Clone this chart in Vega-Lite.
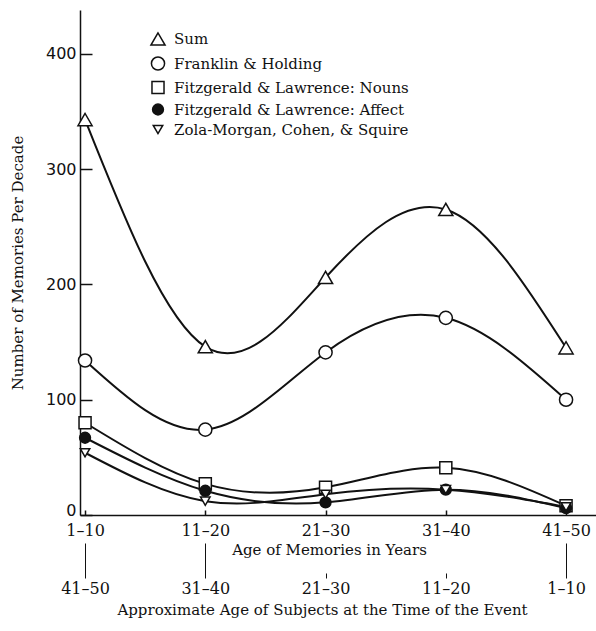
{
  "$schema": "https://vega.github.io/schema/vega-lite/v6.json",
  "width": 516,
  "height": 505,
  "autosize": {"type": "none"},
  "padding": {"left": 80, "top": 10, "right": 0, "bottom": 116},
  "background": "white",
  "config": {
    "view": {"stroke": null},
    "font": "DejaVu Serif",
    "axis": {"grid": false, "domainColor": "#111", "tickColor": "#111", "labelColor": "#111", "titleColor": "#111", "domainWidth": 1.5, "tickWidth": 1.5, "titleFontWeight": "normal", "labelFont": "DejaVu Serif", "titleFont": "DejaVu Serif", "labelFontSize": 16, "titleFontSize": 15}
  },
  "data": {
    "values": [
      {"series": "Sum", "x": 1, "value": 343},
      {"series": "Sum", "x": 2, "value": 146},
      {"series": "Sum", "x": 3, "value": 206},
      {"series": "Sum", "x": 4, "value": 265},
      {"series": "Sum", "x": 5, "value": 145},
      {"series": "Franklin & Holding", "x": 1, "value": 134},
      {"series": "Franklin & Holding", "x": 2, "value": 74},
      {"series": "Franklin & Holding", "x": 3, "value": 141},
      {"series": "Franklin & Holding", "x": 4, "value": 171},
      {"series": "Franklin & Holding", "x": 5, "value": 100},
      {"series": "Fitzgerald & Lawrence: Nouns", "x": 1, "value": 80},
      {"series": "Fitzgerald & Lawrence: Nouns", "x": 2, "value": 27},
      {"series": "Fitzgerald & Lawrence: Nouns", "x": 3, "value": 24},
      {"series": "Fitzgerald & Lawrence: Nouns", "x": 4, "value": 41},
      {"series": "Fitzgerald & Lawrence: Nouns", "x": 5, "value": 8},
      {"series": "Fitzgerald & Lawrence: Affect", "x": 1, "value": 67},
      {"series": "Fitzgerald & Lawrence: Affect", "x": 2, "value": 21},
      {"series": "Fitzgerald & Lawrence: Affect", "x": 3, "value": 11},
      {"series": "Fitzgerald & Lawrence: Affect", "x": 4, "value": 22},
      {"series": "Fitzgerald & Lawrence: Affect", "x": 5, "value": 6},
      {"series": "Zola-Morgan, Cohen, & Squire", "x": 1, "value": 54},
      {"series": "Zola-Morgan, Cohen, & Squire", "x": 2, "value": 12},
      {"series": "Zola-Morgan, Cohen, & Squire", "x": 3, "value": 18},
      {"series": "Zola-Morgan, Cohen, & Squire", "x": 4, "value": 22},
      {"series": "Zola-Morgan, Cohen, & Squire", "x": 5, "value": 7}
    ]
  },
  "encoding": {
    "y": {
      "field": "value", "type": "quantitative",
      "scale": {"domain": [0, 438], "nice": false},
      "axis": {
        "values": [0, 100, 200, 300, 400],
        "tickSize": -12,
        "labelPadding": 16,
        "labelOffset": {"condition": {"test": "datum.value == 0", "value": -5}, "value": 0},
        "labelFont": "DejaVu Sans",
        "title": "Number of Memories Per Decade",
        "titlePadding": 20
      }
    }
  },
  "layer": [
    {
      "mark": {"type": "line", "interpolate": "natural", "color": "#111", "strokeWidth": 2},
      "encoding": {
        "x": {"field": "x", "type": "quantitative", "scale": {"domain": [0.958, 5.249], "nice": false, "zero": false}, "axis": null},
        "detail": {"field": "series"}
      }
    },
    {
      "mark": {"type": "point", "filled": false, "stroke": "#111", "strokeWidth": 1.5, "opacity": 1},
      "encoding": {
        "x": {
          "field": "x", "type": "quantitative",
          "axis": {
            "values": [1, 2, 3, 4, 5],
            "labelExpr": "['', '1–10', '11–20', '21–30', '31–40', '41–50'][datum.value]",
            "tickSize": -5,
            "labelPadding": 12,
            "title": "Age of Memories in Years",
            "titlePadding": 4,
            "titleX": 249
          }
        },
        "shape": {
          "field": "series", "type": "nominal",
          "scale": {
            "domain": ["Sum", "Franklin & Holding", "Fitzgerald & Lawrence: Nouns", "Fitzgerald & Lawrence: Affect", "Zola-Morgan, Cohen, & Squire"],
            "range": ["triangle-up", "circle", "square", "circle", "triangle-down"]
          },
          "legend": {
            "orient": "none", "legendX": 70, "legendY": 21, "title": null,
            "labelFont": "DejaVu Serif", "labelFontSize": 15, "labelColor": "#111", "labelLimit": 0,
            "symbolStrokeColor": "#111", "symbolStrokeWidth": 1.5, "rowPadding": 4,
            "labelOffset": 8
          }
        },
        "fill": {
          "field": "series", "type": "nominal",
          "scale": {
            "domain": ["Sum", "Franklin & Holding", "Fitzgerald & Lawrence: Nouns", "Fitzgerald & Lawrence: Affect", "Zola-Morgan, Cohen, & Squire"],
            "range": ["white", "white", "white", "#111", "white"]
          }
        },
        "size": {
          "field": "series", "type": "nominal",
          "scale": {
            "domain": ["Sum", "Franklin & Holding", "Fitzgerald & Lawrence: Nouns", "Fitzgerald & Lawrence: Affect", "Zola-Morgan, Cohen, & Squire"],
            "range": [200, 90, 100, 50, 200]
          }
        }
      }
    },
    {
      "mark": {"type": "point", "opacity": 0},
      "encoding": {
        "x": {
          "field": "x", "type": "quantitative",
          "axis": {
            "orient": "bottom",
            "offset": 63,
            "domain": false,
            "values": [1, 2, 3, 4, 5],
            "labelExpr": "['', '41–50', '31–40', '21–30', '11–20', '1–10'][datum.value]",
            "tickSize": {"condition": {"test": "datum.value <= 2 || datum.value == 5", "value": -35}, "value": -5},
            "labelPadding": {"condition": {"test": "datum.value <= 2 || datum.value == 5", "value": 37}, "value": 7},
            "tickWidth": 1,
            "title": "Approximate Age of Subjects at the Time of the Event",
            "titlePadding": 6,
            "titleX": 242
          }
        }
      }
    }
  ],
  "resolve": {"axis": {"x": "independent"}}
}
